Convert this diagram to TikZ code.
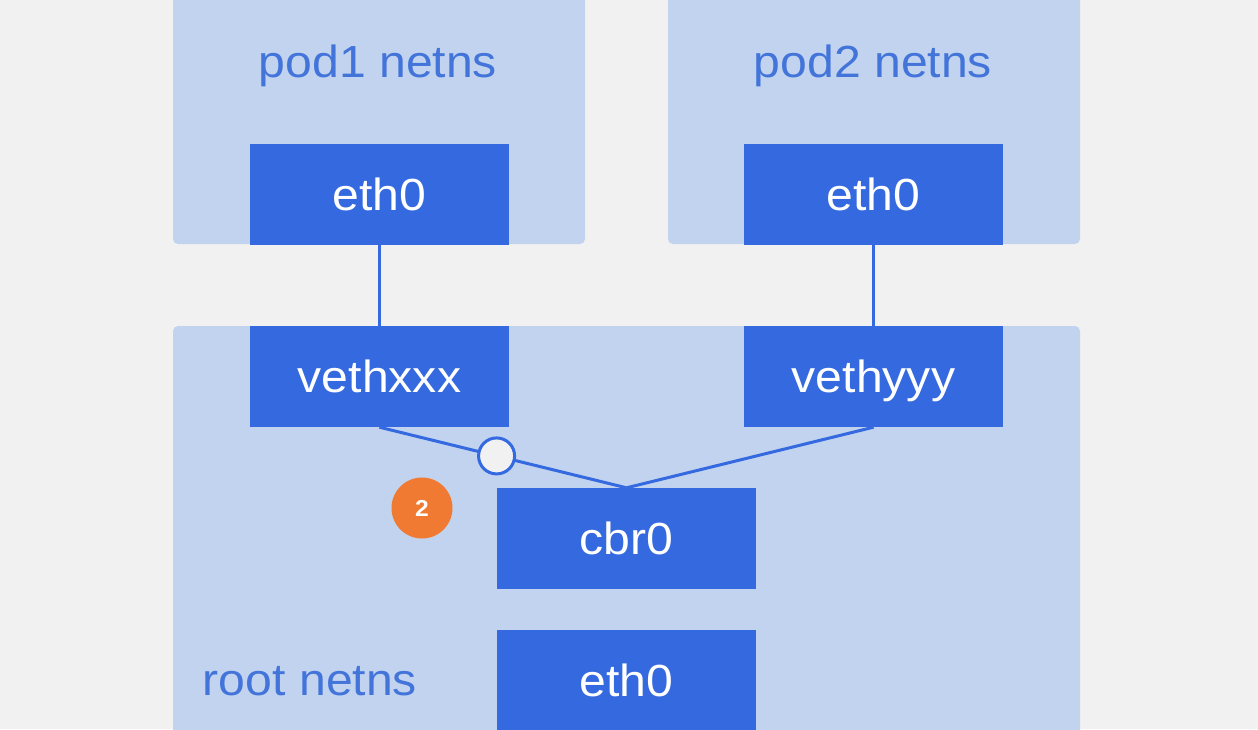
\documentclass[tikz,border=0pt]{standalone}
\usepackage{fontspec}
\setmainfont{Liberation Sans}[FakeStretch=1.07]
\definecolor{bglight}{HTML}{F1F1F1}
\definecolor{nslight}{HTML}{C2D3F0}
\definecolor{ifblue}{HTML}{3469E0}
\definecolor{lblblue}{HTML}{4274DA}
\definecolor{badgeorange}{HTML}{F07A32}
\begin{document}
\begin{tikzpicture}[x=1pt,y=-1pt,
  nsbox/.style={fill=nslight, rounded corners=5pt, inner sep=0pt},
  nslabel/.style={text=lblblue, font=\fontsize{45}{45}\selectfont, inner sep=0pt},
  iface/.style={fill=ifblue, text=white, font=\fontsize{45}{45}\selectfont, inner sep=0pt, minimum width=259pt, minimum height=101pt, text height=32pt, text depth=0pt},
  link/.style={draw=ifblue, line width=3pt},
  hub/.style={circle, fill=bglight, draw=ifblue, line width=3pt, minimum size=36pt, inner sep=0pt},
  badge/.style={circle, fill=badgeorange, text=white, font=\fontsize{23}{23}\selectfont\bfseries, minimum size=61pt, inner sep=0pt}]
\useasboundingbox (0,0) rectangle (1258,729);
\clip (0,0) rectangle (1258,729);
\fill[bglight] (0,0) rectangle (1258,729);
% namespaces
\node[nsbox, minimum width=412pt, minimum height=264pt] (pod1ns) at (379,112) {};
\node[nsbox, minimum width=412pt, minimum height=264pt] (pod2ns) at (874,112) {};
\node[nsbox, minimum width=907pt, minimum height=443pt] (rootns) at (626.5,547.5) {};
\node[nslabel, anchor=base] (pod1lbl) at (378,77) {pod1 netns};
\node[nslabel, anchor=base] (pod2lbl) at (873,77) {pod2 netns};
\node[nslabel, anchor=base] (rootlbl) at (310,695) {root netns};
% interfaces
\node[iface] (p1eth) at (379.5,194) {eth0};
\node[iface] (p2eth) at (873.5,194) {eth0};
\node[iface] (veth1) at (379.5,376.5) {vethxxx};
\node[iface] (veth2) at (873.5,376.5) {vethyyy};
\node[iface] (cbr) at (626.5,538.5) {cbr0};
\node[iface, minimum height=120pt] (reth) at (626.5,690) {};
\node[text=white, font=\fontsize{45}{45}\selectfont, inner sep=0pt, text height=32pt, text depth=0pt] (rethlbl) at (626.5,680) {eth0};
% links
\draw[link] (p1eth.south) -- (veth1.north);
\draw[link] (p2eth.south) -- (veth2.north);
\draw[link] (veth2.south) -- (cbr.north);
\draw[link] (veth1.south) -- node[pos=0.474, hub] (hub) {} (cbr.north);
\node[badge] (step2) at (422,508) {2};
\end{tikzpicture}
\end{document}
